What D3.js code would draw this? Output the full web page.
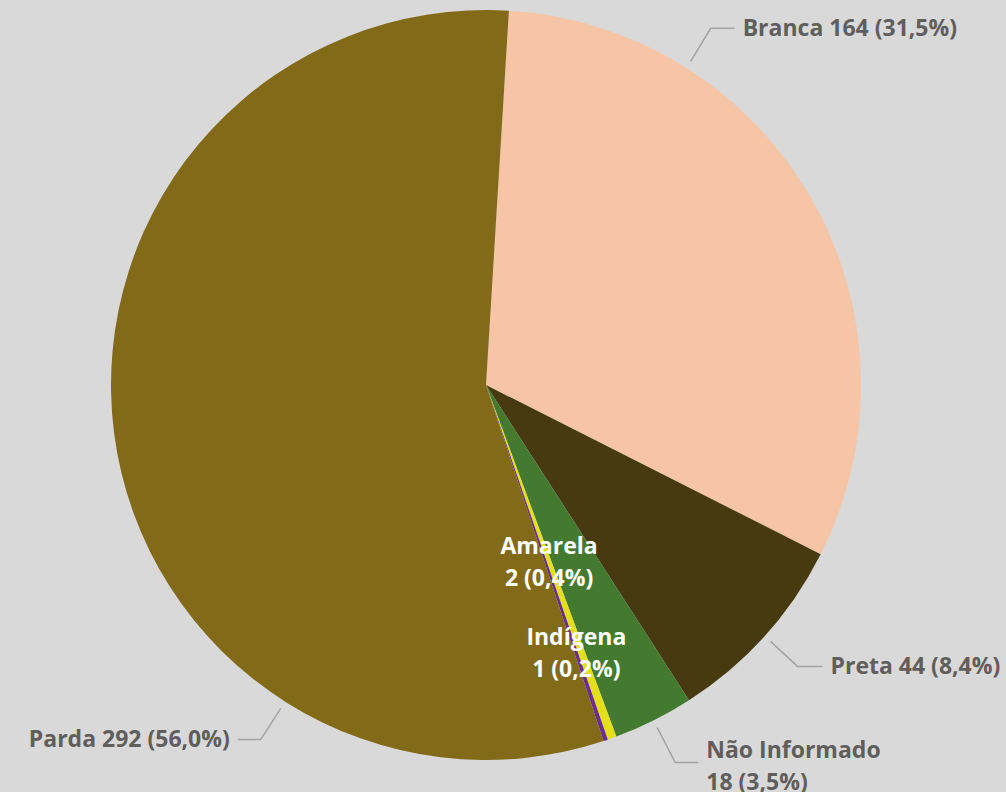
<!DOCTYPE html>
<html lang="pt">
<head>
<meta charset="utf-8">
<title>Raça/Cor</title>
<script src="https://cdn.jsdelivr.net/npm/d3@7"></script>
<style>
  html, body { margin: 0; padding: 0; background: #d9d9d9; }
  svg { display: block; }
  .lbl { font-family: "Open Sans", "Noto Sans", sans-serif; font-weight: 700; font-size: 23px; }
</style>
</head>
<body>
<script>
// data
var categories = ["Branca", "Preta", "Não Informado", "Amarela", "Indígena", "Parda"];
var values = [164, 44, 18, 2, 1, 292];
var colors = ["#f5c5a5", "#473a0e", "#437a30", "#e4df1b", "#6a2c8e", "#826a19"];

var w = 1006, h = 792;
var cx = 486, cy = 385, r = 375;
var lineGap = 32;
var total = d3.sum(values);
var fmt = d3.format(".1f");
function pctText(v) { return fmt(v / total * 100).replace(".", ",") + "%"; }

// outside label layout: anchor angle (deg, null = slice middle), elbow offset, tail length, wrap
var outside = {
    "Branca":        { ang: 32.3,  ex: 20,  ey: -33, tail: 24, dir: 1,  wrap: false },
    "Preta":         { ang: null,  ex: 27,  ey: 25,  tail: 25, dir: 1,  wrap: false },
    "Não Informado": { ang: null,  ex: 18,  ey: 35,  tail: 23, dir: 1,  wrap: true },
    "Parda":         { ang: 212.4, ex: -20, ey: 31,  tail: 23, dir: -1, wrap: false }
};
// inside labels: radius fraction
var inside = { "Amarela": 0.5, "Indígena": 0.755 };

var svg = d3.select("body").append("svg")
    .attr("width", w)
    .attr("height", h);

var start = 3.5 * Math.PI / 180;
var pie = d3.pie()
    .sort(null)
    .value(function (d, i) { return values[i]; })
    .startAngle(start)
    .endAngle(start + 2 * Math.PI);

var arcs = pie(categories);

var arc = d3.arc().innerRadius(0).outerRadius(r);

var g = svg.append("g").attr("transform", "translate(" + cx + "," + cy + ")");

g.selectAll("path")
    .data(arcs)
    .enter()
    .append("path")
    .attr("d", arc)
    .attr("fill", function (d, i) { return colors[i]; });

function pt(angle, rad) {
    return [Math.sin(angle) * rad, -Math.cos(angle) * rad];
}

arcs.forEach(function (d, i) {
    var name = categories[i];
    var mid = (d.startAngle + d.endAngle) / 2;
    var val = values[i];
    var valText = val + " (" + pctText(val) + ")";

    if (outside[name]) {
        var o = outside[name];
        var a = o.ang !== null ? o.ang * Math.PI / 180 : mid;
        var p0 = pt(a, r + 8);
        var p1 = [p0[0] + o.ex, p0[1] + o.ey];
        var p2 = [p1[0] + o.dir * o.tail, p1[1]];
        g.append("polyline")
            .attr("points", [p0, p1, p2].map(function (p) { return p.join(","); }).join(" "))
            .attr("fill", "none")
            .attr("stroke", "#a3a3a3")
            .attr("stroke-width", 1.5);

        var tx = p2[0] + o.dir * 8;
        var t = g.append("text")
            .attr("class", "lbl")
            .attr("x", tx)
            .attr("y", p2[1])
            .attr("text-anchor", o.dir > 0 ? "start" : "end")
            .attr("fill", "#605e5c");
        if (o.wrap) {
            t.append("tspan").attr("x", tx).attr("dy", -5).text(name);
            t.append("tspan").attr("x", tx).attr("dy", lineGap).text(valText);
        } else {
            t.append("tspan").attr("x", tx).attr("dy", 8).text(name + " " + valText);
        }
    } else if (inside[name]) {
        var c = pt(mid, r * inside[name]);
        var ti = g.append("text")
            .attr("class", "lbl")
            .attr("x", c[0])
            .attr("y", c[1])
            .attr("text-anchor", "middle")
            .attr("fill", "#ffffff");
        ti.append("tspan").attr("x", c[0]).attr("dy", -8).text(name);
        ti.append("tspan").attr("x", c[0]).attr("dy", lineGap).text(valText);
    }
});
</script>
</body>
</html>
